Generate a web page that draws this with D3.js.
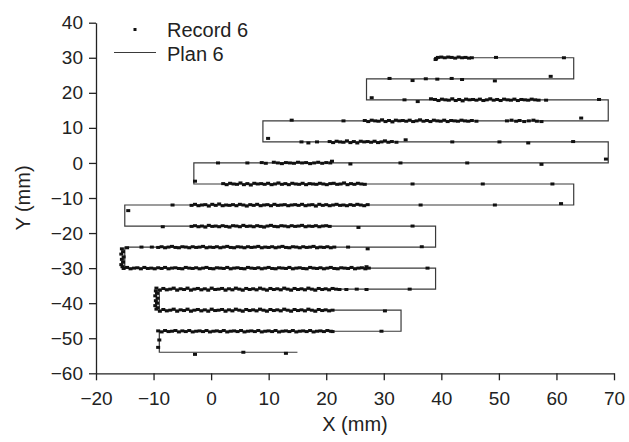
<!DOCTYPE html>
<html><head><meta charset="utf-8">
<script src="https://cdn.jsdelivr.net/npm/d3@7"></script>
<style>body{margin:0;background:#fff}svg{display:block}</style>
</head><body>
<script>
const xTicks=[-20,-10,0,10,20,30,40,50,60,70];
const yTicks=[40,30,20,10,0,-10,-20,-30,-40,-50,-60];
const legendLabels=["Record 6","Plan 6"];
const planX=[15,-9,-9,33,33,-9,-9,39,39,-15,-15,39,39,-15,-15,63,63,-3,-3,69,69,9,9,69,69,27,27,63,63,39];
const planY=[-54,-54,-48,-48,-42,-42,-36,-36,-30,-30,-24,-24,-18,-18,-12,-12,-6,-6,0,0,6,6,12,12,18,18,24,24,30,30];

const rec30=[[39.0,29.5],[39.1,29.8],[39.4,30.1],[40.0,30.2],[40.6,30.0],[41.2,30.2],[41.8,30.1],[42.4,29.9],[43.0,30.2],[43.6,30.0],[44.2,30.1],[44.8,29.9],[45.3,30.0],[49.5,30.1],[61.3,30.0]];
const rec24=[[31.0,24.1],[35.0,23.5],[37.3,24.0],[39.3,23.9],[41.8,24.1],[43.6,23.8],[49.3,23.4],[59.0,24.7]];
const rec18=[[27.9,18.6],[33.6,18.0],[35.9,17.5],[38.2,18.3],
[38.9,18.1],[39.5,17.8],[40.1,18.2],[40.7,18.0],[41.3,17.9],[41.9,18.3],[42.5,17.8],[43.1,18.1],[43.7,17.7],[44.3,18.2],[44.9,18.0],[45.5,18.1],[46.1,17.9],[46.7,18.2],[47.3,17.8],[47.9,18.0],[48.5,18.3],[49.1,17.9],[49.7,18.1],[50.3,17.8],[50.9,18.2],[51.5,18.0],[52.1,17.9],[52.7,18.2],[53.3,17.8],[53.9,18.1],[54.5,18.0],[55.1,17.9],[55.7,18.2],[56.3,18.0],[56.9,17.9],
[58.2,17.9],[67.4,18.1]];
const rec12=[[14.0,12.2],[23.0,12.0],
[26.7,12.1],[27.3,11.8],[27.9,12.2],[28.5,12.0],[29.1,11.9],[29.7,12.3],[30.3,11.8],[30.9,12.1],[31.5,11.7],[32.1,12.2],[32.7,12.0],[33.3,12.1],[33.9,11.9],[34.5,12.2],[35.1,11.8],[35.7,12.0],[36.3,12.3],[36.9,11.9],[37.5,12.1],[38.1,11.8],[38.7,12.2],[39.3,12.0],[39.9,11.9],[40.5,12.2],[41.1,11.8],[41.7,12.1],[42.3,12.0],[42.9,11.9],[43.5,12.2],[44.1,12.0],[44.7,11.9],[45.3,12.1],
[46.1,11.9],
[51.4,12.0],[52.2,12.2],[53.0,11.9],[53.6,12.1],[54.4,11.8],[55.2,12.0],[56.0,12.2],[56.6,11.9],
[57.4,11.8],[64.3,12.8]];
const rec6=[[9.9,7.0],[15.7,6.0],[16.9,5.7],[18.4,6.0],
[20.6,6.1],[21.2,5.8],[21.8,6.2],[22.4,6.0],[23.0,5.9],[23.6,6.3],[24.2,5.8],[24.8,6.1],[25.4,5.7],[26.0,6.2],[26.6,6.0],[27.2,6.1],[27.8,5.9],[28.4,6.2],[29.0,5.8],[29.6,6.0],[30.2,6.3],[30.8,5.9],[31.4,6.1],[32.2,5.9],
[33.8,6.6],[41.9,6.0],[50.1,6.0],[55.1,5.7],[62.9,6.1]];
const rec0=[[1.2,0.0],[6.3,0.0],
[8.8,0.1],[9.5,-0.1],[10.9,0.2],[11.6,0.0],[12.3,-0.2],[13.0,0.1],[13.7,0.0],[14.4,-0.1],[15.1,0.2],[15.8,0.0],[16.5,0.1],[17.2,-0.2],[17.9,0.0],[18.6,0.2],[19.3,-0.1],[20.0,0.1],[20.7,0.0],[21.0,0.5],
[24.2,-0.3],[32.9,0.0],[44.5,0.0],[57.4,-0.4],[68.6,1.1]];
const recM6=[[-2.8,-5.2],
[2.1,-5.9],[2.7,-6.2],[3.3,-5.8],[3.9,-6.0],[4.5,-6.1],[5.1,-5.7],[5.7,-6.2],[6.3,-5.9],[6.9,-6.3],[7.5,-5.8],[8.1,-6.0],[8.7,-5.9],[9.3,-6.1],[9.9,-5.8],[10.5,-6.2],[11.1,-6.0],[11.7,-5.7],[12.3,-6.1],[12.9,-5.9],[13.5,-6.2],[14.1,-5.8],[14.7,-6.0],[15.3,-6.1],[15.9,-5.8],[16.5,-6.2],[17.1,-5.9],[17.7,-6.0],[18.3,-6.1],[18.9,-5.8],[19.5,-6.0],[20.1,-6.2],[20.7,-5.9],[21.3,-5.8],[21.9,-6.1],[22.5,-6.0],[23.1,-5.7],[23.7,-6.2],[24.3,-5.9],[24.9,-6.1],[25.5,-5.8],[26.1,-6.0],[26.7,-6.1],
[35.0,-6.0],[47.2,-6.0],[59.3,-6.0]];
const recM12=[[-14.4,-13.6],[-6.7,-12.0],
[-3.4,-12.1],[-2.8,-11.8],[-2.2,-12.2],[-1.6,-12.0],[-1.0,-11.9],[-0.4,-12.3],[0.2,-11.8],[0.8,-12.1],[1.4,-11.7],[2.0,-12.2],[2.6,-12.0],[3.2,-12.1],[3.8,-11.9],[4.4,-12.2],[5.0,-11.8],[5.6,-12.0],[6.2,-12.3],[6.8,-11.9],[7.4,-12.1],[8.0,-11.8],[8.6,-12.2],[9.2,-12.0],[9.8,-11.9],[10.4,-12.2],[11.0,-11.8],[11.6,-12.1],[12.2,-12.0],[12.8,-11.9],[13.4,-12.2],[14.0,-12.0],[14.6,-11.9],[15.2,-12.1],[15.8,-11.8],[16.4,-12.2],[17.0,-12.0],[17.6,-11.9],[18.2,-12.3],[18.8,-11.8],[19.4,-12.1],[20.0,-11.9],[20.6,-12.2],[21.2,-12.0],[21.8,-11.8],[22.4,-12.1],[23.0,-12.0],[23.6,-12.2],[24.2,-11.9],[24.8,-12.1],[25.4,-11.8],[26.0,-12.0],[26.6,-12.2],[27.2,-11.9],
[36.4,-12.0],[49.3,-12.0],[60.8,-11.6]];
const recM18=[[-8.4,-18.2],
[-3.4,-18.1],[-2.8,-17.9],[-2.2,-18.2],[-1.6,-18.0],[-1.0,-18.3],[-0.4,-17.8],[0.2,-18.1],[0.8,-18.0],[1.4,-18.2],[2.0,-17.9],[2.6,-18.1],[3.2,-18.3],[3.8,-17.9],[4.4,-18.0],[5.0,-18.2],[5.6,-17.8],[6.2,-18.1],[6.8,-18.0],[7.4,-18.2],[8.0,-17.9],[8.6,-18.1],[9.2,-18.3],[9.8,-18.0],[10.4,-17.8],[11.0,-18.1],[11.6,-18.2],[12.2,-17.9],[12.8,-18.0],[13.4,-18.2],[14.0,-17.9],[14.6,-18.1],[15.2,-18.0],[15.8,-17.8],[16.4,-18.2],[17.0,-18.0],[17.6,-18.1],[18.2,-17.9],[18.8,-18.2],[19.4,-18.0],[20.0,-17.9],[20.6,-18.1],
[25.6,-18.4],[35.0,-18.0]];
const recM24=[[-14.6,-24.2],[-12.1,-24.0],[-10.3,-24.0],
[-9.2,-24.1],[-8.6,-23.9],[-8.0,-24.2],[-7.4,-24.0],[-6.8,-23.8],[-6.2,-24.1],[-5.6,-24.2],[-5.0,-23.9],[-4.4,-24.0],[-3.8,-24.2],[-3.2,-23.9],[-2.6,-24.1],[-2.0,-24.0],[-1.4,-23.8],[-0.8,-24.2],[-0.2,-24.0],[0.4,-24.1],[1.0,-23.9],[1.6,-24.2],[2.2,-24.0],[2.8,-23.8],[3.4,-24.1],[4.0,-24.2],[4.6,-23.9],[5.2,-24.0],[5.8,-24.2],[6.4,-23.9],[7.0,-24.1],[7.6,-24.0],[8.2,-23.8],[8.8,-24.2],[9.4,-24.0],[10.0,-24.1],[10.6,-23.9],[11.2,-24.2],[11.8,-24.0],[12.4,-23.8],[13.0,-24.1],[13.6,-24.2],[14.2,-23.9],[14.8,-24.0],[15.4,-24.2],[16.0,-23.9],[16.6,-24.1],[17.2,-24.0],[17.8,-23.8],[18.4,-24.2],[19.0,-24.0],[19.6,-24.1],[20.2,-23.9],[20.8,-24.2],[21.4,-24.0],
[23.8,-24.0],[27.2,-24.5],[36.6,-23.9],
[-15.5,-24.5],[-15.3,-25.3],[-15.6,-26.0],[-15.2,-26.8],[-15.5,-27.5],[-15.3,-28.3],[-15.6,-29.0],[-15.4,-29.6]];
const recM30=[[-15.2,-30.1],[-14.6,-29.8],[-14.0,-30.2],[-13.4,-30.0],[-12.8,-29.9],[-12.2,-30.2],[-11.6,-29.8],[-11.0,-30.1],[-10.4,-30.0],[-9.8,-30.2],[-9.2,-29.9],[-8.6,-30.1],[-8.0,-29.8],[-7.4,-30.2],[-6.8,-30.0],[-6.2,-29.9],[-5.6,-30.1],[-5.0,-30.2],[-4.4,-29.8],[-3.8,-30.0],[-3.2,-30.1],[-2.6,-29.9],[-2.0,-30.2],[-1.4,-30.0],[-0.8,-29.8],[-0.2,-30.1],[0.4,-30.2],[1.0,-29.9],[1.6,-30.0],[2.2,-30.1],[2.8,-29.8],[3.4,-30.2],[4.0,-30.0],[4.6,-29.9],[5.2,-30.1],[5.8,-30.2],[6.4,-29.8],[7.0,-30.0],[7.6,-30.1],[8.2,-29.9],[8.8,-30.2],[9.4,-30.0],[10.0,-29.8],[10.6,-30.1],[11.2,-30.2],[11.8,-29.9],[12.4,-30.0],[13.0,-30.1],[13.6,-29.8],[14.2,-30.2],[14.8,-30.0],[15.4,-29.9],[16.0,-30.1],[16.6,-30.2],[17.2,-29.8],[17.8,-30.0],[18.4,-30.1],[19.0,-29.9],[19.6,-30.2],[20.2,-30.0],[20.8,-29.8],[21.4,-30.1],[22.0,-30.2],[22.6,-29.9],[23.2,-30.0],[23.8,-30.1],[24.4,-29.8],[25.0,-30.2],[25.6,-30.0],[26.2,-29.9],[26.8,-30.2],[27.4,-30.0],[27.0,-29.6],[37.6,-30.0]];
const recM36=[[-9.6,-36.5],[-9.4,-37.2],[-9.7,-37.9],[-9.3,-38.6],[-9.6,-39.3],[-9.4,-40.0],[-9.7,-40.7],[-9.3,-41.3],
[-9.5,-35.7],[-8.9,-36.3],[-8.3,-35.8],[-7.7,-36.2],[-7.1,-36.0],[-6.5,-35.7],[-5.9,-36.3],[-5.3,-35.9],[-4.7,-36.1],[-4.1,-35.7],[-3.5,-36.3],[-2.9,-36.0],[-2.3,-35.8],[-1.7,-36.2],[-1.1,-35.9],[-0.5,-36.3],[0.1,-35.7],[0.7,-36.1],[1.3,-36.0],[1.9,-35.8],[2.5,-36.3],[3.1,-35.9],[3.7,-36.2],[4.3,-35.7],[4.9,-36.0],[5.5,-36.3],[6.1,-35.8],[6.7,-36.1],[7.3,-35.9],[7.9,-36.2],[8.5,-35.7],[9.1,-36.0],[9.7,-36.3],[10.3,-35.8],[10.9,-36.1],[11.5,-35.9],[12.1,-36.2],[12.7,-35.7],[13.3,-36.0],[13.9,-36.3],[14.5,-35.8],[15.1,-36.1],[15.7,-35.9],[16.3,-36.2],[16.9,-35.7],[17.5,-36.0],[18.1,-36.3],[18.7,-35.8],[19.3,-36.1],[19.9,-35.9],[20.5,-36.2],[21.1,-35.8],[21.7,-36.0],[22.3,-36.1],
[23.5,-36.1],[25.3,-36.0],[27.0,-36.1],[34.5,-36.0]];
const recM42=[[-9.5,-41.7],[-8.9,-42.3],[-8.3,-41.8],[-7.7,-42.2],[-7.1,-42.0],[-6.5,-41.7],[-5.9,-42.3],[-5.3,-41.9],[-4.7,-42.1],[-4.1,-41.7],[-3.5,-42.3],[-2.9,-42.0],[-2.3,-41.8],[-1.7,-42.2],[-1.1,-41.9],[-0.5,-42.3],[0.1,-41.7],[0.7,-42.1],[1.3,-42.0],[1.9,-41.8],[2.5,-42.3],[3.1,-41.9],[3.7,-42.2],[4.3,-41.7],[4.9,-42.0],[5.5,-42.3],[6.1,-41.8],[6.7,-42.1],[7.3,-41.9],[7.9,-42.2],[8.5,-41.7],[9.1,-42.0],[9.7,-42.3],[10.3,-41.8],[10.9,-42.1],[11.5,-41.9],[12.1,-42.2],[12.7,-41.7],[13.3,-42.0],[13.9,-42.3],[14.5,-41.8],[15.1,-42.1],[15.7,-41.9],[16.3,-42.2],[16.9,-41.7],[17.5,-42.0],[18.1,-42.3],[18.7,-41.8],[19.3,-42.1],[19.9,-41.9],[20.5,-42.2],[21.1,-42.0],
[30.2,-42.2]];
const recM48=[[-9.2,-47.9],[-8.6,-48.2],[-8.0,-47.8],[-7.4,-48.1],[-6.8,-48.0],[-6.2,-47.8],[-5.6,-48.2],[-5.0,-47.9],[-4.4,-48.1],[-3.8,-47.8],[-3.2,-48.2],[-2.6,-48.0],[-2.0,-47.9],[-1.4,-48.1],[-0.8,-47.8],[-0.2,-48.2],[0.4,-48.0],[1.0,-47.9],[1.6,-48.1],[2.2,-47.8],[2.8,-48.2],[3.4,-48.0],[4.0,-47.9],[4.6,-48.1],[5.2,-47.8],[5.8,-48.2],[6.4,-48.0],[7.0,-47.9],[7.6,-48.1],[8.2,-47.8],[8.8,-48.2],[9.4,-48.0],[10.0,-47.9],[10.6,-48.1],[11.2,-47.8],[11.8,-48.2],[12.4,-48.0],[13.0,-47.9],[13.6,-48.1],[14.2,-47.8],[14.8,-48.2],[15.4,-48.0],[16.0,-47.9],[16.6,-48.1],[17.2,-47.8],[17.8,-48.2],[18.4,-48.0],[19.0,-47.9],[19.6,-48.1],[20.2,-47.8],[20.8,-48.0],[21.1,-48.1],
[29.6,-48.0],[-9.0,-50.5],[-9.2,-52.6]];
const recM54=[[-2.8,-54.6],[5.6,-54.0],[13.0,-54.3]];

const W=629,H=442;
const svg=d3.select("body").append("svg").attr("width",W).attr("height",H).style("font-family","'Liberation Sans',Arial,sans-serif");
const x=d3.scaleLinear().domain([-20,70]).range([96,614]);
const y=d3.scaleLinear().domain([-60,40]).range([373.3,22.7]);

// plan path
const plan=planX.map((v,i)=>[v,planY[i]]);
svg.append("path").datum(plan)
  .attr("d",d3.line().x(d=>x(d[0])).y(d=>y(d[1])))
  .attr("fill","none").attr("stroke","#3a3a3a").attr("stroke-width",1.2);

// record points
const record=[].concat(rec30,rec24,rec18,rec12,rec6,rec0,recM6,recM12,recM18,recM24,recM30,recM36,recM42,recM48,recM54);
const mw=4.0, mh=3.0;
svg.append("g").selectAll("rect").data(record).join("rect")
  .attr("x",d=>x(d[0])-mw/2).attr("y",d=>y(d[1])-mh/2)
  .attr("width",mw).attr("height",mh).attr("fill","#111");

// axes
const fs=19;
const gx=svg.append("g").attr("transform",`translate(0,${y(-60)})`)
  .call(d3.axisBottom(x).tickValues(xTicks).tickSize(7).tickPadding(11).tickSizeOuter(0));
const gy=svg.append("g").attr("transform",`translate(${x(-20)},0)`)
  .call(d3.axisLeft(y).tickValues(yTicks).tickSize(7).tickPadding(6).tickSizeOuter(0));
[gx,gy].forEach(g=>{
  g.select(".domain").attr("stroke","#222").attr("stroke-width",1.3);
  g.selectAll(".tick line").attr("stroke","#222").attr("stroke-width",1.3);
  g.selectAll(".tick text").attr("fill","#222").style("font-size",fs+"px").style("font-family","'Liberation Sans',Arial,sans-serif");
});

svg.append("text").attr("x",(x(-20)+x(70))/2).attr("y",431).attr("text-anchor","middle")
  .attr("fill","#222").style("font-size","20px").text("X (mm)");
svg.append("text").attr("transform",`translate(30,${(y(40)+y(-60))/2}) rotate(-90)`).attr("text-anchor","middle")
  .attr("fill","#222").style("font-size","20px").text("Y (mm)");

// legend
svg.append("rect").attr("x",135-1.5).attr("y",29.5-1.5).attr("width",3).attr("height",3).attr("fill","#111");
svg.append("text").attr("x",167).attr("y",36.5).attr("fill","#222").style("font-size","20px").text(legendLabels[0]);
svg.append("line").attr("x1",114).attr("x2",156).attr("y1",52.5).attr("y2",52.5).attr("stroke","#3a3a3a").attr("stroke-width",1.2);
svg.append("text").attr("x",167).attr("y",60.5).attr("fill","#222").style("font-size","20px").text(legendLabels[1]);
</script>
</body></html>
